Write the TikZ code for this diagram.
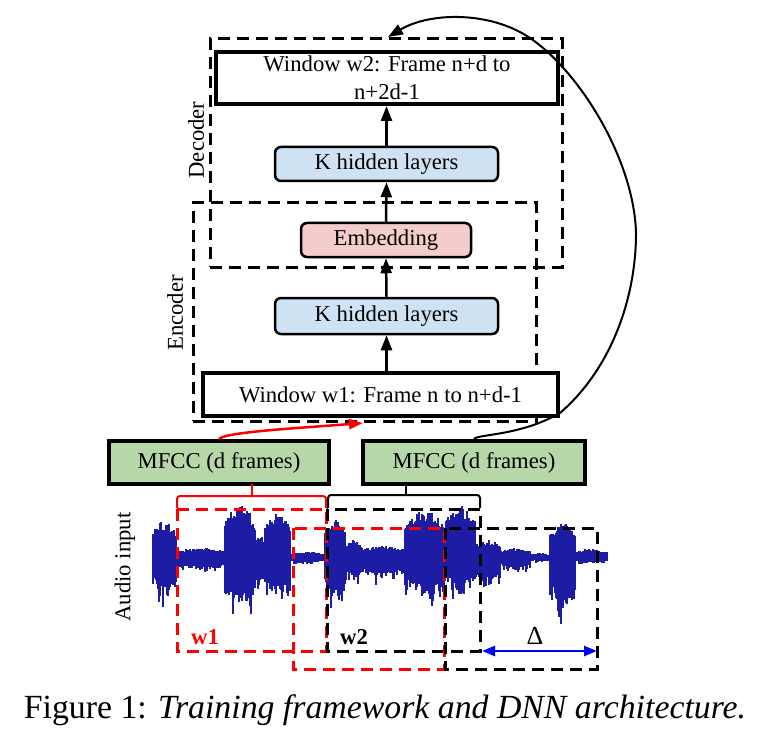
\documentclass[tikz,border=0pt]{standalone}
\usepackage{fontspec}
\setmainfont{Liberation Serif}
\usetikzlibrary{arrows.meta}
\definecolor{wavecol}{RGB}{28,28,165}
\definecolor{hidfill}{RGB}{207,226,243}
\definecolor{embfill}{RGB}{244,204,204}
\definecolor{mfccfill}{RGB}{182,215,168}
\definecolor{redc}{RGB}{255,0,0}
\definecolor{bluec}{RGB}{0,0,255}
\begin{document}
\begin{tikzpicture}[x=1pt,y=-1pt,
  lbl/.style={font=\fontsize{22.7}{28}\selectfont},
  winbox/.style={draw=black,line width=4pt,fill=white,inner sep=0pt,lbl,align=center},
  hidbox/.style={draw=black,line width=2.5pt,rounded corners=6pt,inner sep=0pt,lbl},
  mfccbox/.style={draw=black,line width=4pt,fill=mfccfill,inner sep=0pt,lbl},
  dashbox/.style={draw=black,line width=3pt,dash pattern=on 12pt off 7pt,inner sep=0pt},
  wframe/.style={line width=3pt,dash pattern=on 12pt off 7pt},
  arr/.style={line width=2.5pt,-{Triangle[width=11pt,length=15pt]}},
  wavel/.style={draw=wavecol,line width=1.15pt},
  brk/.style={line width=2pt,rounded corners=3pt}
]
\useasboundingbox (0,0) rectangle (770,743);

% ---- waveform ----
\pgfmathsetseed{12345}
\foreach \xa/\xb/\at/\ab in {153/176/38/55, 176/225/10/18, 225/255/53/79, 255/265/24/42,
  265/290/45/59, 290/325/6/8, 325/345/38/65, 345/362/18/34, 362/405/12/30, 405/445/48/59,
  445/475/53/49, 475/500/18/42, 500/530/10/18, 530/550/5/6, 550/575/36/77, 575/607/9/8} {
  \pgfmathtruncatemacro\xs{\xa+1}
  \foreach \x in {\xa,\xs,...,\xb} {
    \pgfmathsetmacro\wt{(\x-\xa)/(\xb-\xa)}
    \pgfmathsetmacro\wsh{0.7+0.3*sin(180*\wt)}
    \pgfmathsetmacro\yt{558-\at*\wsh*(0.72+0.28*rnd)}
    \pgfmathsetmacro\yb{558+\ab*\wsh*(0.45+0.55*rnd*rnd)}
    \draw[wavel] (\x,\yt) -- (\x,\yb);
  }
}

% ---- window frames on the waveform ----
\draw[wframe,redc] (177,509) rectangle (326,651);
\draw[wframe,black] (327,509) rectangle (480,651);
\draw[wframe,redc] (293,528) rectangle (444,669);
\draw[wframe,black] (445,528) rectangle (597,669);

\node[font=\fontsize{22.7}{28}\selectfont\bfseries,text=redc] (w1lab) at (205,637) {w1};
\node[font=\fontsize{22.7}{28}\selectfont\bfseries] (w2lab) at (354,637) {w2};
\node[font=\fontsize{26}{30}\selectfont] (dlab) at (535,636) {Δ};
\coordinate (dl) at (482,651);
\coordinate (dr) at (597,651);
\draw[bluec,line width=2.5pt,{Triangle[width=10pt,length=13pt]}-{Triangle[width=10pt,length=13pt]}] (dl) -- (dr);

\node[lbl,rotate=90] (audio) at (125,567) {Audio input};

% ---- MFCC boxes ----
\node[mfccbox,minimum width=220pt,minimum height=43pt] (mfcc1) at (219,462.5) {MFCC (d frames)};
\node[mfccbox,minimum width=222pt,minimum height=43pt] (mfcc2) at (474,462.5) {MFCC (d frames)};

% brackets
\coordinate (rb) at (251.5,496);
\coordinate (bb) at (406,495);
\draw[brk,redc] (177,508) |- (rb) -| (326,508);
\draw[line width=2pt,redc] (rb) -- (251.5,484);
\draw[brk,black] (328,508) |- (bb) -| (480,508);
\draw[line width=2pt,black] (bb) -- (406,484);

% ---- encoder / decoder ----
\node[dashbox,minimum width=352pt,minimum height=228pt] (decbox) at (386,153) {};
\node[dashbox,minimum width=343pt,minimum height=218pt] (encbox) at (364.5,312) {};

\node[winbox,minimum width=342pt,minimum height=52pt] (win2) at (387,78)
  {Window w2: Frame n+d to\\n+2d-1};
\node[hidbox,fill=hidfill,minimum width=223pt,minimum height=34pt] (kdec) at (386.5,164) {K hidden layers};
\node[hidbox,fill=embfill,minimum width=170pt,minimum height=34pt] (emb) at (386,240) {Embedding};
\node[hidbox,fill=hidfill,minimum width=223pt,minimum height=36pt] (kenc) at (386.5,316) {K hidden layers};
\node[winbox,minimum width=355pt,minimum height=43pt] (win1) at (380.5,394.5)
  {Window w1: Frame n to n+d-1};

\node[lbl,rotate=90] (declab) at (196,140) {Decoder};
\node[lbl,rotate=90] (enclab) at (175,313) {Encoder};

\draw[arr] (win1.north -| kenc) -- (kenc.south);
\draw[arr] (kenc.north) -- (emb.south);
\draw[arr] (emb.north) -- (kdec.south);
\draw[arr] (kdec.north) -- (win2.south -| kdec);

% red arrow from MFCC 1 to encoder window
\coordinate (redtip) at (363,423);
\draw[redc,line width=2.5pt,-{Triangle[width=10pt,length=14pt]}]
  (mfcc1.north) .. controls (225,432) and (300,428) .. (redtip);

% curved arrow from MFCC 2 back to decoder
\coordinate (toptip) at (388,37);
\draw[line width=2pt,-{Triangle[width=11pt,length=15pt]}]
  (mfcc2.north) .. controls (478,434) and (520,436) .. (560,413)
  .. controls (610,370) and (636,300) .. (636,233)
  .. controls (634,160) and (580,72) .. (530,38)
  .. controls (490,11) and (430,12) .. (toptip);

% ---- caption ----
\node[anchor=base,font=\fontsize{33.8}{40}\selectfont] (cap) at (385,718)
  {Figure 1: \textit{Training framework and DNN architecture.}};
\end{tikzpicture}
\end{document}
